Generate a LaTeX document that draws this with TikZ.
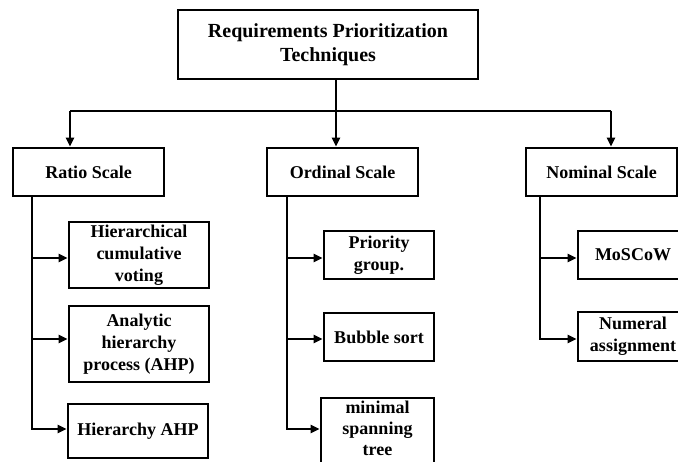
\documentclass[tikz,border=0pt]{standalone}
\usepackage{fontspec}
\setmainfont{Liberation Serif}
\usetikzlibrary{arrows.meta}

\begin{document}
\begin{tikzpicture}[x=1pt,y=-1pt,
  box/.style={draw,line width=2.9pt,inner sep=0pt,align=center,
    font=\bfseries\fontsize{18}{22}\selectfont},
  link/.style={line width=2.9pt},
  arr/.style={link,-{Triangle[length=9pt,width=8pt]}}]
%Page frame
\useasboundingbox (0,0) rectangle (678,462);
%Root of the tree
\node (root) at (328,44.5) [box,minimum width=300,minimum height=69,
  font=\bfseries\fontsize{20}{24}\selectfont] {Requirements Prioritization\\Techniques};
%The three scales
\node (ratio) at (88.5,172) [box,minimum width=151,minimum height=48] {Ratio Scale};
\node (ordinal) at (342.5,172) [box,minimum width=151,minimum height=48] {Ordinal Scale};
\node (nominal) at (601.5,172) [box,minimum width=151,minimum height=48] {Nominal Scale};
%Bus line under the root
\coordinate (busL) at (70,111);
\coordinate (busM) at (336,111);
\coordinate (busR) at (611,111);
\draw [link] (root.south -| busM) -- (busM);
\draw [link] (busL) -- (busR);
\draw [arr] (busL) -- (ratio.north -| busL);
\draw [arr] (busM) -- (ordinal.north -| busM);
\draw [arr] (busR) -- (nominal.north -| busR);
%Ratio scale techniques
\node (hcv) at (139,255) [box,minimum width=140,minimum height=66] {Hierarchical\\cumulative\\voting};
\node (ahp) at (139,344) [box,minimum width=140,minimum height=76] {Analytic\\hierarchy\\process (AHP)};
\node (hahp) at (138,431) [box,minimum width=140,minimum height=54] {Hierarchy AHP};
\coordinate (r1) at (32,258);
\coordinate (r2) at (32,339);
\coordinate (r3) at (32,429);
\draw [arr] (ratio.south -| r3) -- (r3) -- (hahp.west |- r3);
\draw [arr] (r1) -- (hcv.west |- r1);
\draw [arr] (r2) -- (ahp.west |- r2);
%Ordinal scale techniques
\node (prio) at (379,255) [box,minimum width=110,minimum height=48] {Priority\\group.};
\node (bubble) at (379,337) [box,minimum width=110,minimum height=48] {Bubble sort};
\node (mst) at (377.5,432) [box,minimum width=113,minimum height=68] {};
\node (msttext) at (377.5,428) [align=center,inner sep=0pt,
  font=\bfseries\fontsize{18}{21}\selectfont] {minimal\\spanning\\tree};
\coordinate (o1) at (287,258);
\coordinate (o2) at (287,339);
\coordinate (o3) at (287,429);
\draw [arr] (ordinal.south -| o3) -- (o3) -- (mst.west |- o3);
\draw [arr] (o1) -- (prio.west |- o1);
\draw [arr] (o2) -- (bubble.west |- o2);
%Nominal scale techniques
\node (moscow) at (633,255) [box,minimum width=110,minimum height=48] {MoSCoW};
\node (numeral) at (633,336.5) [box,minimum width=110,minimum height=49] {Numeral\\assignment};
\coordinate (n1) at (540,258);
\coordinate (n2) at (540,339);
\draw [arr] (nominal.south -| n2) -- (n2) -- (numeral.west |- n2);
\draw [arr] (n1) -- (moscow.west |- n1);
\end{tikzpicture}
\end{document}
